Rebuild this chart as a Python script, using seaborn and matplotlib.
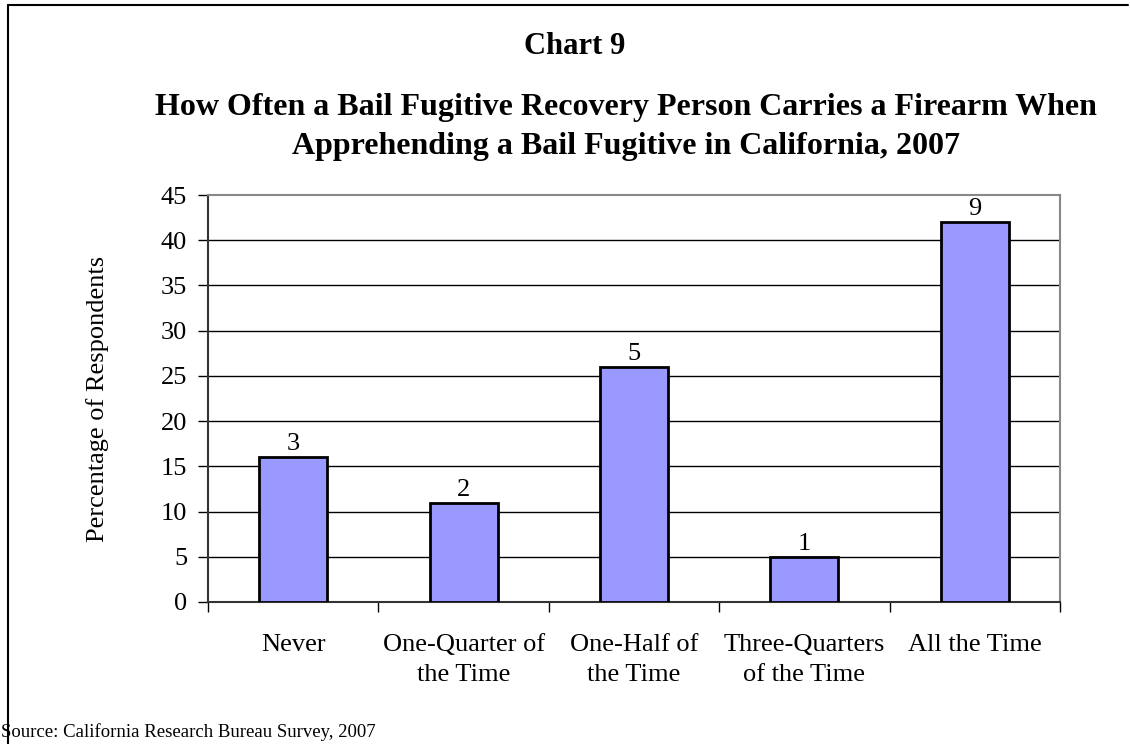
import matplotlib
matplotlib.use("Agg")
import matplotlib.pyplot as plt
from matplotlib.lines import Line2D
import seaborn as sns
import pandas as pd

categories = ["Never", "One-Quarter of\nthe Time", "One-Half of\nthe Time",
              "Three-Quarters\nof the Time", "All the Time"]
percentages = [16, 11, 26, 5, 42]
counts = [3, 2, 5, 1, 9]
y_ticks = [0, 5, 10, 15, 20, 25, 30, 35, 40, 45]

sns.set_style("white")
plt.rcParams["font.family"] = ["Liberation Serif", "DejaVu Serif"]
plt.rcParams["text.color"] = "black"
plt.rcParams["axes.labelcolor"] = "black"
plt.rcParams["xtick.color"] = "black"
plt.rcParams["ytick.color"] = "black"

W, H = 1130, 744
fig = plt.figure(figsize=(W / 100, H / 100), dpi=100)
ax = fig.add_axes([208 / W, 1 - 602 / H, (1060 - 208) / W, (602 - 195) / H])

df = pd.DataFrame({"cat": categories, "pct": percentages})
sns.barplot(data=df, x="cat", y="pct", ax=ax, color="#9999FF", saturation=1,
            width=0.4, edgecolor="black", linewidth=2, zorder=3)

ax.set_ylim(0, 45)
ax.set_xlim(-0.5, len(categories) - 0.5)
ax.set_yticks(y_ticks)
ax.set_yticklabels([str(t) for t in y_ticks], fontsize=19)
for t in y_ticks[1:-1]:
    ax.axhline(t, color="black", linewidth=1, zorder=1)

# category labels centred under bars, ticks between categories
ax.set_xticks(range(len(categories)))
ax.set_xticklabels(categories, fontsize=19, linespacing=1.48)
ax.tick_params(axis="x", which="major", bottom=True, length=0, pad=23)
ax.set_xticks([i - 0.5 for i in range(len(categories) + 1)], minor=True)
ax.tick_params(axis="x", which="minor", bottom=True, direction="out",
               length=7, width=1, color="black")
ax.tick_params(axis="y", left=True, direction="out", length=7, width=1,
               color="black", pad=8)
ax.set_xlabel("")
ax.set_ylabel("Percentage of Respondents", fontsize=19, labelpad=37)

for side in ["left", "bottom"]:
    ax.spines[side].set_color("#333333")
    ax.spines[side].set_linewidth(1.5)
for side in ["top", "right"]:
    ax.spines[side].set_color("#888888")
    ax.spines[side].set_linewidth(1.5)
    ax.spines[side].set_visible(True)

for i, (p, c) in enumerate(zip(percentages, counts)):
    ax.text(i, p + 0.2, str(c), ha="center", va="bottom", fontsize=19, zorder=4)

fig.text(0.5 + 10 / W, 1 - 47 / H, "Chart 9", ha="center", va="center",
         fontsize=22, fontweight="bold")
fig.text(626 / W, 1 - 127 / H,
         "How Often a Bail Fugitive Recovery Person Carries a Firearm When\n"
         "Apprehending a Bail Fugitive in California, 2007",
         ha="center", va="center", fontsize=23, fontweight="bold", linespacing=1.41)
fig.text(1 / W, 1 - 732 / H, "Source: California Research Bureau Survey, 2007",
         ha="left", va="center", fontsize=13.5)

# frame around the page
fig.add_artist(Line2D([8 / W, 8 / W], [0, 1 - 5 / H], transform=fig.transFigure,
                      color="black", linewidth=1.5))
fig.add_artist(Line2D([8 / W, 1128 / W], [1 - 5 / H, 1 - 5 / H], transform=fig.transFigure,
                      color="black", linewidth=1.5))

fig.savefig("out.png", dpi=100)
